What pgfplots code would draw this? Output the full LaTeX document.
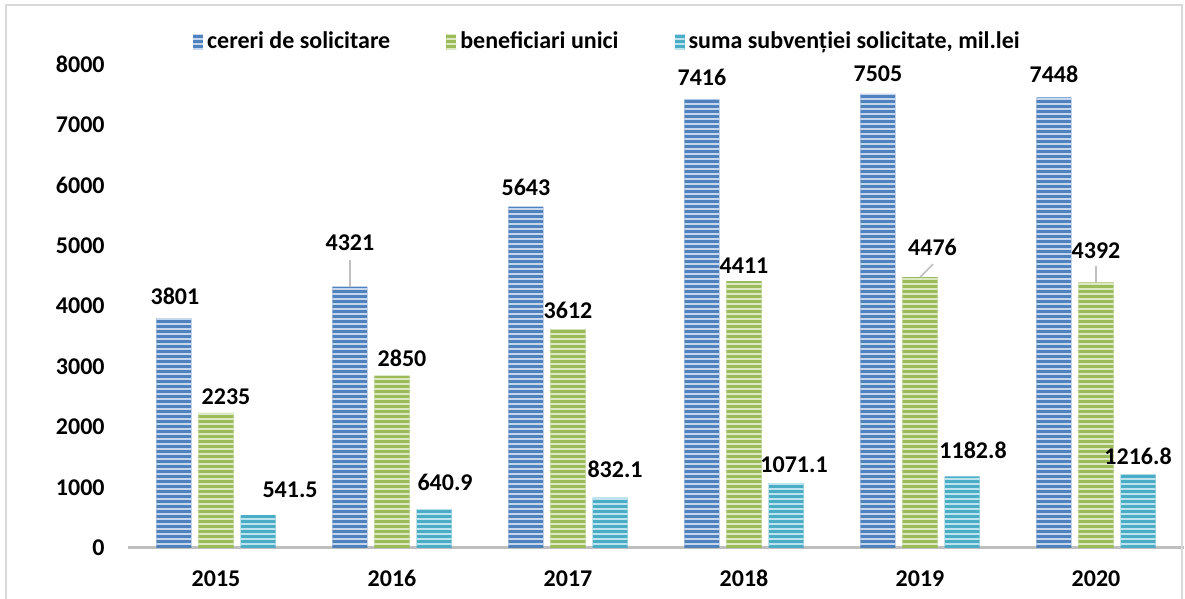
\documentclass[border=0pt]{standalone}
\usepackage{fontspec}
\setmainfont{Carlito}
\usepackage{pgfplots}
\pgfplotsset{compat=1.18}
\usepackage{pgfplotstable}
\usetikzlibrary{patterns}

\definecolor{blueD}{HTML}{4F81BD}
\definecolor{blueL}{HTML}{C6D6EE}
\definecolor{greenD}{HTML}{9BBB59}
\definecolor{greenL}{HTML}{DDE9C4}
\definecolor{cyanD}{HTML}{4BACC6}
\definecolor{cyanL}{HTML}{BDE3EE}
\definecolor{axisgray}{HTML}{BFBFBF}
\definecolor{framegray}{HTML}{D9D9D9}

% wide tile so no seams show inside a bar
\pgfdeclarepatternformonly{hstripe}{\pgfpointorigin}{\pgfpoint{24pt}{2.25pt}}{\pgfpoint{24pt}{2.25pt}}{%
  \pgfpathrectangle{\pgfpoint{-1pt}{0pt}}{\pgfpoint{26pt}{1pt}}\pgfusepath{fill}}

\newcommand{\lbl}{\fontsize{12}{14}\selectfont\bfseries}

% x = year index, dx/dy = label offset from bar top (pt)
\pgfplotstableread{
x y dx dy
0 3801 0.5 11
1 4321 0 22
2 5643 0 9.5
3 7416 0 11
4 7505 0 10
5 7448 0 11.5
}\cereri
\pgfplotstableread{
x y dx dy
0 2235 5 8
1 2850 5 8.5
2 3612 0 9.5
3 4411 0 7.5
4 4476 6.25 15
5 4392 0 16
}\benef
\pgfplotstableread{
x y dx dy
0 541.5 16 12.5
1 640.9 5.5 13.25
2 832.1 2.5 14
3 1071.1 4 9
4 1182.8 5.5 13
5 1216.8 0 9
}\suma

\begin{document}
\begin{tikzpicture}
\begin{axis}[
    at={(0,0)}, anchor=south west,
    scale only axis, width=528pt, height=242pt,
    xmin=-0.5, xmax=5.5, ymin=0, ymax=8000,
    ybar, bar width=0.199,
    axis lines*=left,
    y axis line style={draw=none},
    x axis line style={draw=axisgray, line width=1.5pt},
    xtick={0,1,2,3,4,5},
    xticklabels={2015,2016,2017,2018,2019,2020},
    ytick={0,1000,...,8000},
    major tick length=0pt,
    tick label style={font=\lbl},
    xticklabel style={anchor=north, inner sep=0pt, yshift=-11pt},
    yticklabel style={anchor=east, inner sep=0pt, xshift=-11.5pt},
    /pgf/number format/1000 sep={},
    /pgf/number format/assume math mode=true,
    clip=false,
    legend columns=3,
    legend style={at={(0.455,1)}, anchor=center, yshift=11pt,
        draw=none, fill=none, inner sep=0pt, font=\lbl,
        /tikz/every even column/.append style={column sep=26pt}},
    legend image code/.code={\fill[#1] (0pt,-4pt) rectangle (5pt,4pt);},
    nodes near coords={\pgfmathprintnumber{\pgfplotspointmeta}},
    visualization depends on={\thisrow{dx} \as \dx},
    visualization depends on={\thisrow{dy} \as \dy},
    every node near coord/.append style={font=\lbl, text=black,
        anchor=center, inner sep=0pt, xshift=\dx pt, yshift=\dy pt},
]
\addplot[fill=blueD, draw=none, bar shift=-0.239,
    postaction={pattern=hstripe, pattern color=blueL}]
    table[x=x, y=y] {\cereri};
\addplot[fill=greenD, draw=none, bar shift=0,
    postaction={pattern=hstripe, pattern color=greenL}]
    table[x=x, y=y] {\benef};
\addplot[fill=cyanD, draw=none, bar shift=0.239,
    postaction={pattern=hstripe, pattern color=cyanL}]
    table[x=x, y=y] {\suma};
\legend{cereri de solicitare, beneficiari unici, {suma subvenției solicitate, mil.lei}}

% leader lines
\draw[axisgray, line width=0.75pt] (axis cs:0.761,4321) -- ++(0pt,13.5pt);
\draw[axisgray, line width=0.75pt] (axis cs:4,4476) -- ++(6.5pt,6.5pt);
\draw[axisgray, line width=0.75pt] (axis cs:5,4392) -- ++(0pt,8pt);
\end{axis}
\draw[framegray, line width=1pt] (-61pt,-30pt) -- (-61pt,271.5pt) -- (527pt,271.5pt) -- (527pt,-30pt);
\pgfresetboundingbox
\path[use as bounding box] (-64pt,-25.5pt) rectangle (528.5pt,274pt);
\end{tikzpicture}
\end{document}
